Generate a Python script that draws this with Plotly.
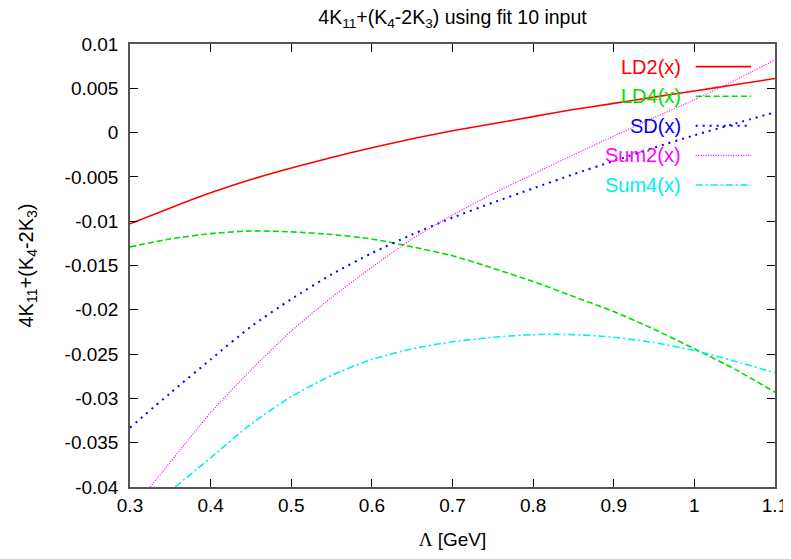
import plotly.graph_objects as go

# ---- data ----
x_grid = [0.30, 0.35, 0.40, 0.45, 0.50, 0.55, 0.60, 0.65, 0.70, 0.75, 0.80, 0.85, 0.90, 0.95, 1.00, 1.05, 1.10]

ld2 = [-0.0103, -0.0085, -0.0068, -0.0053, -0.0040, -0.0028, -0.0017, -0.0007, 0.0002, 0.0010, 0.0018, 0.0026, 0.0033, 0.0040, 0.0047, 0.0054, 0.0061]
ld4 = [-0.0129, -0.0120, -0.0114, -0.0111, -0.0112, -0.0115, -0.0120, -0.0129, -0.0139, -0.0153, -0.0168, -0.0185, -0.0202, -0.0222, -0.0244, -0.0267, -0.0293]
sd = [-0.0333, -0.0294, -0.0256, -0.0219, -0.0188, -0.0160, -0.0136, -0.0115, -0.0096, -0.0079, -0.0063, -0.0047, -0.0032, -0.0017, -0.0003, 0.0010, 0.0023]

sum2_x = [0.325, 0.35, 0.40, 0.45, 0.50, 0.55, 0.60, 0.65, 0.70, 0.75, 0.80, 0.85, 0.90, 0.95, 1.00, 1.05, 1.10]
sum2 = [-0.0400, -0.0372, -0.0316, -0.0268, -0.0224, -0.0186, -0.0152, -0.0120, -0.0093, -0.0069, -0.0047, -0.0025, -0.0004, 0.0017, 0.0037, 0.0059, 0.0082]

sum4_x = [0.356, 0.40, 0.45, 0.50, 0.55, 0.60, 0.65, 0.70, 0.75, 0.80, 0.85, 0.90, 0.95, 1.00, 1.05, 1.10]
sum4 = [-0.0400, -0.0367, -0.0329, -0.0298, -0.0274, -0.0256, -0.0244, -0.0236, -0.0231, -0.0228, -0.0228, -0.0231, -0.0237, -0.0246, -0.0258, -0.0271]

x_ticks = [0.3, 0.4, 0.5, 0.6, 0.7, 0.8, 0.9, 1.0, 1.1]
x_tick_labels = ["0.3", "0.4", "0.5", "0.6", "0.7", "0.8", "0.9", "1", "1.1"]
y_ticks = [0.01, 0.005, 0, -0.005, -0.01, -0.015, -0.02, -0.025, -0.03, -0.035, -0.04]
y_tick_labels = ["0.01", "0.005", "0", "-0.005", "-0.01", "-0.015", "-0.02", "-0.025", "-0.03", "-0.035", "-0.04"]

series = [
    ("LD2(x)", x_grid, ld2, "#ff0000", "solid", 1.6),
    ("LD4(x)", x_grid, ld4, "#00dd00", "6px,3px", 1.6),
    ("SD(x)", x_grid, sd, "#0000ff", "2px,5px", 2.0),
    ("Sum2(x)", sum2_x, sum2, "#ff00ff", "1px,1.5px", 1.2),
    ("Sum4(x)", sum4_x, sum4, "#00eeee", "7px,3px,2px,3px", 1.6),
]

FONT = "Liberation Sans, Arial, Helvetica, sans-serif"

fig = go.Figure()
for name, xs, ys, color, dash, w in series:
    fig.add_trace(go.Scatter(x=xs, y=ys, mode="lines", name=name,
                             line=dict(color=color, dash=dash, width=w, shape="spline", smoothing=0.6),
                             showlegend=False))

# gnuplot-style key: right-aligned label, sample line to the right
key_top = 0.949
key_step = 0.0668
for i, (name, xs, ys, color, dash, w) in enumerate(series):
    yk = key_top - i * key_step
    fig.add_annotation(xref="paper", yref="paper", x=0.857, y=yk, text=name,
                       showarrow=False, xanchor="right", yanchor="middle",
                       font=dict(family=FONT, size=20, color=color))
    fig.add_shape(type="line", xref="paper", yref="paper", x0=0.877, x1=0.963, y0=yk, y1=yk,
                  line=dict(color=color, dash=dash, width=w))

# the page adds an 8px body margin, so the figure is sized 783x551
fig.update_layout(
    width=783, height=551,
    margin=dict(l=122, r=16, t=35.5, b=72),
    paper_bgcolor="white", plot_bgcolor="white",
    font=dict(family=FONT, size=19, color="black"),
    title=dict(text="4K<sub>11</sub>+(K<sub>4</sub>-2K<sub>3</sub>) using fit 10 input",
               xref="paper", x=0.5, xanchor="center", y=0.984, yanchor="middle", automargin=False,
               font=dict(family=FONT, size=19.5)),
)
fig.update_xaxes(range=[0.3, 1.1], tickvals=x_ticks, ticktext=x_tick_labels, automargin=False,
                 ticks="inside", ticklen=8, tickcolor="black", mirror="allticks",
                 showline=True, linecolor="#555555", linewidth=1.5, showgrid=False, zeroline=False,
                 tickfont=dict(size=19),
                 title=dict(text="<span style='font-family:Liberation Serif'>Λ</span> [GeV]",
                            font=dict(size=19), standoff=18))
fig.update_yaxes(range=[-0.04, 0.01], tickvals=y_ticks, ticktext=y_tick_labels, automargin=False,
                 ticks="inside", ticklen=8, tickcolor="black", mirror="allticks",
                 showline=True, linecolor="#555555", linewidth=1.5, showgrid=False, zeroline=False,
                 tickfont=dict(size=19), ticklabelstandoff=6,
                 title=dict(text="4K<sub>11</sub>+(K<sub>4</sub>-2K<sub>3</sub>)",
                            font=dict(size=20), standoff=26))

fig.write_html("out.html")
